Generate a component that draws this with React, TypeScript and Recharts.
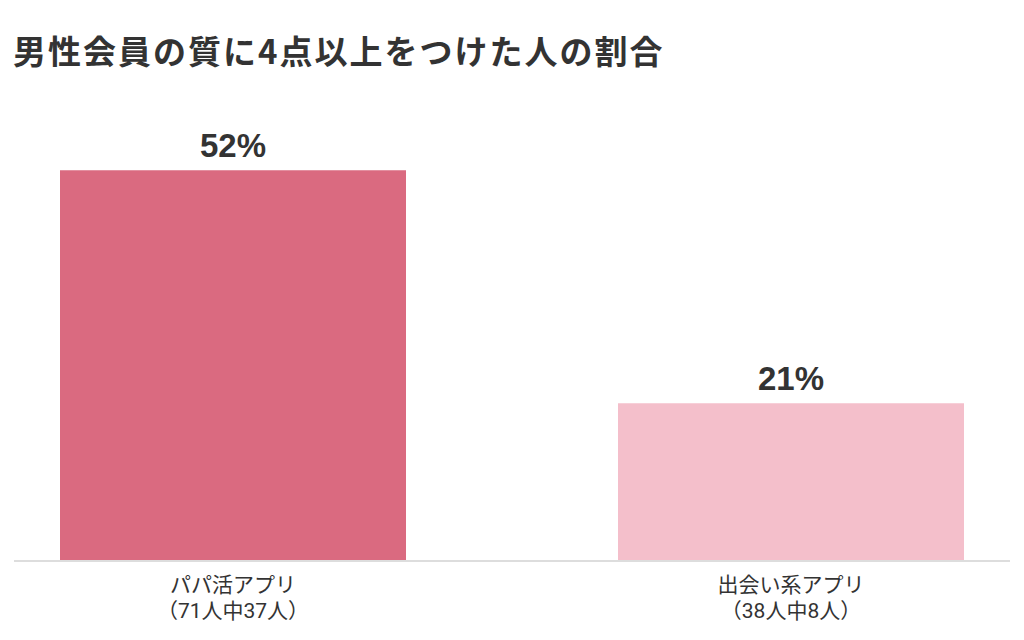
import React from 'react';
import { BarChart, Bar, XAxis, YAxis, Cell, LabelList } from 'recharts';

const categories = ['パパ活アプリ', '出会い系アプリ'];
const subLabels = ['（71人中37人）', '（38人中8人）'];
const values = [52, 21];
const colors = ['#DA6A80', '#F4BFCB'];

const data = categories.map((c, i) => ({ name: c, sub: subLabels[i], value: values[i] }));

const FONT = '"Noto Sans CJK JP", "Noto Sans", sans-serif';
const TICK_FONT = 'Roboto, "Noto Sans CJK JP", sans-serif';
const LABEL_FONT = '"Liberation Sans", Arial, sans-serif';

const Tick = (props: any) => {
  const { x, y, payload, index } = props;
  return (
    <g>
      <text x={x} y={y + 23} textAnchor="middle" fontSize={21} fill="#333" fontFamily={TICK_FONT}>
        {payload.value}
      </text>
      <text x={x} y={y + 49} textAnchor="middle" fontSize={21} fill="#333" fontFamily={TICK_FONT}>
        {subLabels[index]}
      </text>
    </g>
  );
};

export default function App() {
  return (
    <div style={{ position: 'absolute', left: 0, top: 0, width: 1024, height: 640, background: '#fff' }}>
      <div
        style={{
          position: 'absolute',
          left: 13,
          top: 28,
          fontFamily: FONT,
          fontWeight: 700,
          fontSize: 33,
          letterSpacing: 2,
          color: '#333',
          lineHeight: '44px',
          whiteSpace: 'nowrap',
        }}
      >
        男性会員の質に4点以上をつけた人の割合
      </div>
      <BarChart
        width={1024}
        height={640}
        data={data}
        margin={{ top: 110, right: 14, bottom: 0, left: 14 }}
        style={{ position: 'absolute', left: 0, top: 0 }}
      >
        <XAxis
          dataKey="name"
          height={79}
          axisLine={{ stroke: '#dddddd', strokeWidth: 2 }}
          tickLine={false}
          tick={<Tick />}
          interval={0}
          padding={{ left: -60, right: -60 }}
        />
        <YAxis hide domain={[0, 60]} />
        <Bar dataKey="value" barSize={346} isAnimationActive={false}>
          {data.map((d, i) => (
            <Cell key={i} fill={colors[i]} />
          ))}
          <LabelList
            dataKey="value"
            position="top"
            offset={13}
            formatter={(v: any) => `${v}%`}
            style={{ fontSize: 33, fontWeight: 700, fill: '#333', fontFamily: LABEL_FONT }}
          />
        </Bar>
      </BarChart>
    </div>
  );
}
